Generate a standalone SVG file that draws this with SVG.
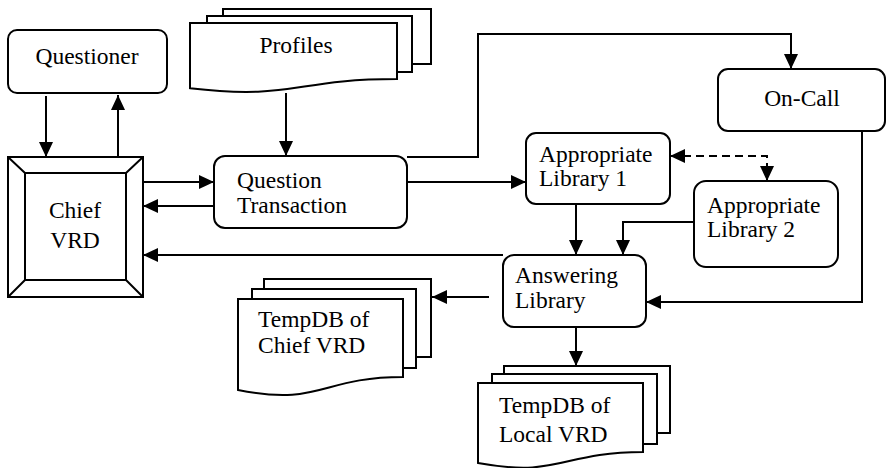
<svg xmlns="http://www.w3.org/2000/svg" width="886" height="468" viewBox="0 0 886 468">
<style>
.box{fill:#fff;stroke:#000;stroke-width:2}
.sheet{fill:#fff;stroke:#000;stroke-width:2}
.ln{fill:none;stroke:#000;stroke-width:2}
.dash{stroke-dasharray:8 5}
.t{font-family:'Liberation Serif','Times New Roman',Tinos,'DejaVu Serif',serif;font-size:23.5px;fill:#000}
.c{text-anchor:middle}
</style>
<defs>
<marker id="ah" markerUnits="userSpaceOnUse" markerWidth="15" markerHeight="14" viewBox="0 0 15 14" refX="15" refY="7" orient="auto-start-reverse">
<path d="M0,0 L15,7 L0,14 z" fill="#000"/>
</marker>
</defs>
<g id="connectors">
<path class="ln" d="M46,96 V157" marker-end="url(#ah)"/>
<path class="ln" d="M118,157 V95" marker-end="url(#ah)"/>
<path class="ln" d="M143,182 H214" marker-end="url(#ah)"/>
<path class="ln" d="M214,206 H143" marker-end="url(#ah)"/>
<path class="ln" d="M503,255 H143" marker-end="url(#ah)"/>
<path class="ln" d="M286,93 V156" marker-end="url(#ah)"/>
<path class="ln" d="M407,157 H478 V34 H791 V69" marker-end="url(#ah)"/>
<path class="ln" d="M407,182 H526" marker-end="url(#ah)"/>
<path class="ln dash" d="M670,156 H767 V181" marker-start="url(#ah)" marker-end="url(#ah)"/>
<path class="ln" d="M576,204 V255" marker-end="url(#ah)"/>
<path class="ln" d="M694,222 H623 V255" marker-end="url(#ah)"/>
<path class="ln" d="M862,131 V302 H646" marker-end="url(#ah)"/>
<path class="ln" d="M489,297 H432" marker-end="url(#ah)"/>
<path class="ln" d="M576,327 V366" marker-end="url(#ah)"/>
</g>
<g id="questioner">
<rect class="box" x="8" y="30" width="159" height="63" rx="9"/>
<text class="t c" font-family="Liberation Serif, serif" x="87" y="64">Questioner</text>
</g>
<g id="chief-vrd">
<rect class="box" x="8" y="157" width="135" height="140"/>
<rect class="box" x="25" y="173" width="101" height="107"/>
<path class="ln" d="M8,157 L25,173 M143,157 L126,173 M8,297 L25,280 M143,297 L126,280"/>
<text class="t c" font-family="Liberation Serif, serif" x="75" y="218">Chief</text>
<text class="t c" font-family="Liberation Serif, serif" x="75" y="248">VRD</text>
</g>
<g id="profiles">
<rect class="sheet" x="223" y="9" width="208" height="55"/>
<rect class="sheet" x="207" y="16" width="205" height="56"/>
<path class="sheet" d="M190,23 H397 V79 C293.5,79 293.5,100.3 190,88.2 Z"/>
<text class="t c" font-family="Liberation Serif, serif" x="296" y="53">Profiles</text>
</g>
<g id="question-transaction">
<rect class="box" x="214" y="156" width="193" height="72" rx="11"/>
<text class="t" font-family="Liberation Serif, serif" x="237" y="188">Question</text>
<text class="t" font-family="Liberation Serif, serif" x="237" y="213">Transaction</text>
</g>
<g id="on-call">
<rect class="box" x="718" y="69" width="167" height="62" rx="10"/>
<text class="t c" font-family="Liberation Serif, serif" x="802" y="106">On-Call</text>
</g>
<g id="appropriate-library-1">
<rect class="box" x="526" y="133" width="144" height="71" rx="10"/>
<text class="t" font-family="Liberation Serif, serif" x="539" y="162">Appropriate</text>
<text class="t" font-family="Liberation Serif, serif" x="539" y="186">Library 1</text>
</g>
<g id="appropriate-library-2">
<rect class="box" x="694" y="181" width="144" height="86" rx="12"/>
<text class="t" font-family="Liberation Serif, serif" x="707" y="213">Appropriate</text>
<text class="t" font-family="Liberation Serif, serif" x="707" y="237">Library 2</text>
</g>
<g id="answering-library">
<rect class="box" x="503" y="255" width="143" height="72" rx="11"/>
<text class="t" font-family="Liberation Serif, serif" x="515" y="283">Answering</text>
<text class="t" font-family="Liberation Serif, serif" x="515" y="308">Library</text>
</g>
<g id="tempdb-chief">
<rect class="sheet" x="264" y="279" width="167" height="78"/>
<rect class="sheet" x="252" y="289" width="164" height="79"/>
<path class="sheet" d="M238,299 H403 V377 C320.5,377 320.5,406.7 238,390 Z"/>
<text class="t" font-family="Liberation Serif, serif" x="258" y="327">TempDB of</text>
<text class="t" font-family="Liberation Serif, serif" x="258" y="353">Chief VRD</text>
</g>
<g id="tempdb-local">
<rect class="sheet" x="504" y="366" width="166" height="67"/>
<rect class="sheet" x="492" y="374" width="165" height="70"/>
<path class="sheet" d="M478,383 H643 V452 C560.5,452 560.5,478 478,463 Z"/>
<text class="t" font-family="Liberation Serif, serif" x="499" y="413">TempDB of</text>
<text class="t" font-family="Liberation Serif, serif" x="499" y="442">Local VRD</text>
</g>
</svg>
